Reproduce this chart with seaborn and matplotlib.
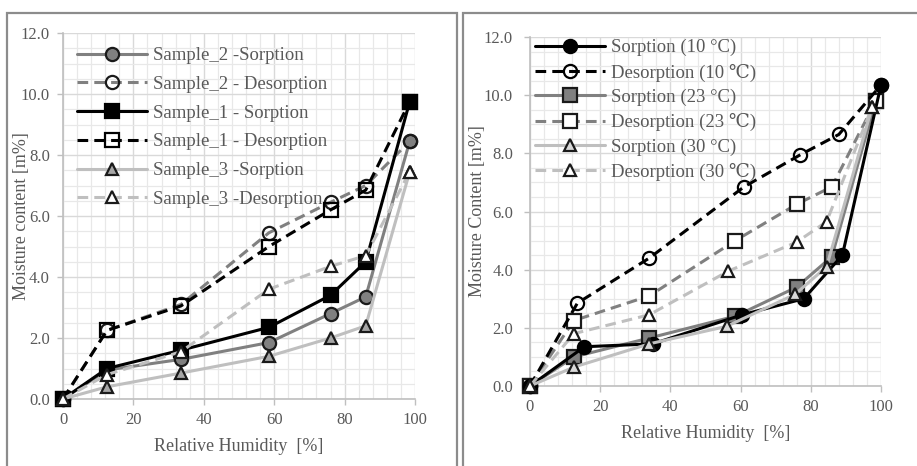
import matplotlib
matplotlib.use('Agg')
import matplotlib.pyplot as plt
import seaborn as sns
import pandas as pd
from matplotlib.patches import Rectangle
from matplotlib.ticker import MultipleLocator

# ---------------- data: left chart ----------------
rh_left = [0, 12.5, 33.5, 58.5, 76, 86, 98.5]
s2_sorp = [0, 0.95, 1.3, 1.85, 2.8, 3.35, 8.45]
s2_desorp = [0, 2.25, 3.1, 5.45, 6.45, 7.0, 8.45]
s1_sorp = [0, 1.0, 1.6, 2.35, 3.4, 4.5, 9.75]
s1_desorp = [0, 2.25, 3.05, 5.0, 6.2, 6.85, 9.75]
s3_sorp = [0, 0.4, 0.85, 1.4, 2.0, 2.4, 7.45]
s3_desorp = [0, 0.8, 1.55, 3.6, 4.35, 4.7, 7.45]
left_labels = ["Sample_2 -Sorption", "Sample_2 - Desorption", "Sample_1 - Sorption",
               "Sample_1 - Desorption", "Sample_3 -Sorption", "Sample_3 -Desorption"]

# ---------------- data: right chart ----------------
rh_10_sorp = [0, 15.5, 35, 60.5, 78, 89, 100]
m_10_sorp = [0, 1.35, 1.45, 2.45, 3.0, 4.5, 10.35]
rh_10_desorp = [0, 13.5, 34, 61, 77, 88, 100]
m_10_desorp = [0, 2.85, 4.4, 6.85, 7.95, 8.65, 10.35]
rh_23 = [0, 12.5, 34, 58.5, 76, 86, 98.5]
m_23_sorp = [0, 1.0, 1.65, 2.4, 3.4, 4.45, 9.8]
m_23_desorp = [0, 2.25, 3.1, 5.0, 6.25, 6.85, 9.8]
rh_30_sorp = [0, 12.5, 34, 56, 75.5, 84.5, 97.5]
m_30_sorp = [0, 0.65, 1.45, 2.05, 3.15, 4.1, 9.6]
rh_30_desorp = [0, 12.5, 34, 56.5, 76, 84.5, 97.5]
m_30_desorp = [0, 1.8, 2.45, 3.95, 4.95, 5.65, 9.6]
right_labels = ["Sorption (10 °C)", "Desorption (10 ℃)", "Sorption (23 °C)",
                "Desorption (23 ℃)", "Sorption (30 °C)", "Desorption (30 ℃)"]

x_ticks = [0, 20, 40, 60, 80, 100]
y_ticks = [0, 2, 4, 6, 8, 10, 12]

sns.set_theme(style="white")
plt.rcParams['font.family'] = ['Liberation Serif', 'DejaVu Serif']

TXT = '#595959'
BLACK = '#000000'
MID = '#808080'
LIGHT = '#bfbfbf'
DASH = (3.5, 2.0)

fig = plt.figure(figsize=(9.17, 4.66), dpi=100)
W, H = 917, 466

def ax_rect(x0, x1, ytop, ybot):
    return [x0 / W, 1 - ybot / H, (x1 - x0) / W, (ybot - ytop) / H]

axL = fig.add_axes(ax_rect(63, 415, 33, 399))
axR = fig.add_axes(ax_rect(530, 881, 37, 386))

# panel borders
fig.patches.append(Rectangle((7 / W, -0.1), (457 - 7) / W, 1.1 - 13 / H,
                             transform=fig.transFigure, fill=False,
                             edgecolor='#8c8c8c', lw=1.6, zorder=0))
fig.patches.append(Rectangle((463 / W, -0.1), 0.6, 1.1 - 13 / H,
                             transform=fig.transFigure, fill=False,
                             edgecolor='#8c8c8c', lw=1.6, zorder=0))

def series(ax, x, y, label, color, ls, marker, mfc, mec='#1a1a1a', ms=9.5, lw=2.2, z=3):
    df = pd.DataFrame({'RH': x, 'M': y})
    kw = dict(color=color, linewidth=lw, marker=marker, markersize=ms,
              markerfacecolor=mfc, markeredgecolor=mec, markeredgewidth=1.6,
              label=label, zorder=z)
    if ls == 'dash':
        kw['linestyle'] = (0, DASH)
    sns.lineplot(data=df, x='RH', y='M', ax=ax, sort=False, **kw)

# left chart
series(axL, rh_left, s2_sorp, left_labels[0], MID, 'solid', 'o', MID, z=3)
series(axL, rh_left, s2_desorp, left_labels[1], MID, 'dash', 'o', 'none', z=3)
series(axL, rh_left, s1_sorp, left_labels[2], BLACK, 'solid', 's', BLACK, mec=BLACK, z=4)
series(axL, rh_left, s1_desorp, left_labels[3], BLACK, 'dash', 's', 'none', mec=BLACK, z=4)
series(axL, rh_left, s3_sorp, left_labels[4], LIGHT, 'solid', '^', '#a6a6a6', ms=9, z=5)
series(axL, rh_left, s3_desorp, left_labels[5], LIGHT, 'dash', '^', 'white', ms=9, z=5)

# right chart
series(axR, rh_10_sorp, m_10_sorp, right_labels[0], BLACK, 'solid', 'o', BLACK, mec=BLACK, z=4)
series(axR, rh_10_desorp, m_10_desorp, right_labels[1], BLACK, 'dash', 'o', 'none', mec=BLACK, z=4)
series(axR, rh_23, m_23_sorp, right_labels[2], MID, 'solid', 's', MID, z=3)
series(axR, rh_23, m_23_desorp, right_labels[3], MID, 'dash', 's', 'white', z=3)
series(axR, rh_30_sorp, m_30_sorp, right_labels[4], LIGHT, 'solid', '^', '#d9d9d9', ms=9, z=5)
series(axR, rh_30_desorp, m_30_desorp, right_labels[5], LIGHT, 'dash', '^', 'white', ms=9, z=5)

for ax, ylabel, ypad, ylx in [(axL, 'Moisture content [m%]', 5.4, -0.094),
                               (axR, 'Moisture Content [m%]', 8.2, -0.125)]:
    ax.set_xlim(0, 100)
    ax.set_ylim(0, 12)
    ax.set_xticks(x_ticks)
    ax.set_yticks(y_ticks)
    ax.set_xticklabels([str(t) for t in x_ticks])
    ax.set_yticklabels([f"{t:.1f}" for t in y_ticks])
    ax.xaxis.set_minor_locator(MultipleLocator(4))
    ax.yaxis.set_minor_locator(MultipleLocator(0.5))
    ax.grid(True, which='major', color='#d9d9d9', lw=1.0, zorder=0)
    ax.grid(True, which='minor', color='#e8e8e8', lw=0.9, zorder=0)
    ax.set_axisbelow(True)
    for s in ['top', 'right']:
        ax.spines[s].set_visible(False)
    for s in ['left', 'bottom']:
        ax.spines[s].set_color('#bfbfbf')
        ax.spines[s].set_linewidth(1.2)
    ax.tick_params(which='major', direction='out', length=4, width=1, color='#bfbfbf',
                   labelsize=12, labelcolor=TXT, left=True, bottom=True)
    ax.tick_params(axis='x', which='major', pad=5.4)
    ax.tick_params(axis='y', which='major', pad=ypad)
    ax.tick_params(which='minor', length=0)
    ax.set_xlabel('Relative Humidity  [%]', fontsize=13, color=TXT, labelpad=7.5)
    ax.set_ylabel(ylabel, fontsize=13, color=TXT)
    ax.yaxis.set_label_coords(ylx, 0.5)
    ax.set_facecolor('white')
    for ln in ax.lines:
        ln.set_clip_on(False)

legL = axL.legend(loc='upper left', bbox_to_anchor=(77 / W, 1 - 47 / H),
                  bbox_transform=fig.transFigure, frameon=False, fontsize=13.5,
                  handlelength=3.75, handletextpad=0.3, labelspacing=0.62,
                  borderpad=0, borderaxespad=0)
legR = axR.legend(loc='upper left', bbox_to_anchor=(535 / W, 1 - 39 / H),
                  bbox_transform=fig.transFigure, frameon=False, fontsize=13.5,
                  handlelength=3.75, handletextpad=0.3, labelspacing=0.38,
                  borderpad=0, borderaxespad=0)
for leg in (legL, legR):
    for t in leg.get_texts():
        t.set_color(TXT)

fig.savefig('out.png', dpi=100, facecolor='white')
